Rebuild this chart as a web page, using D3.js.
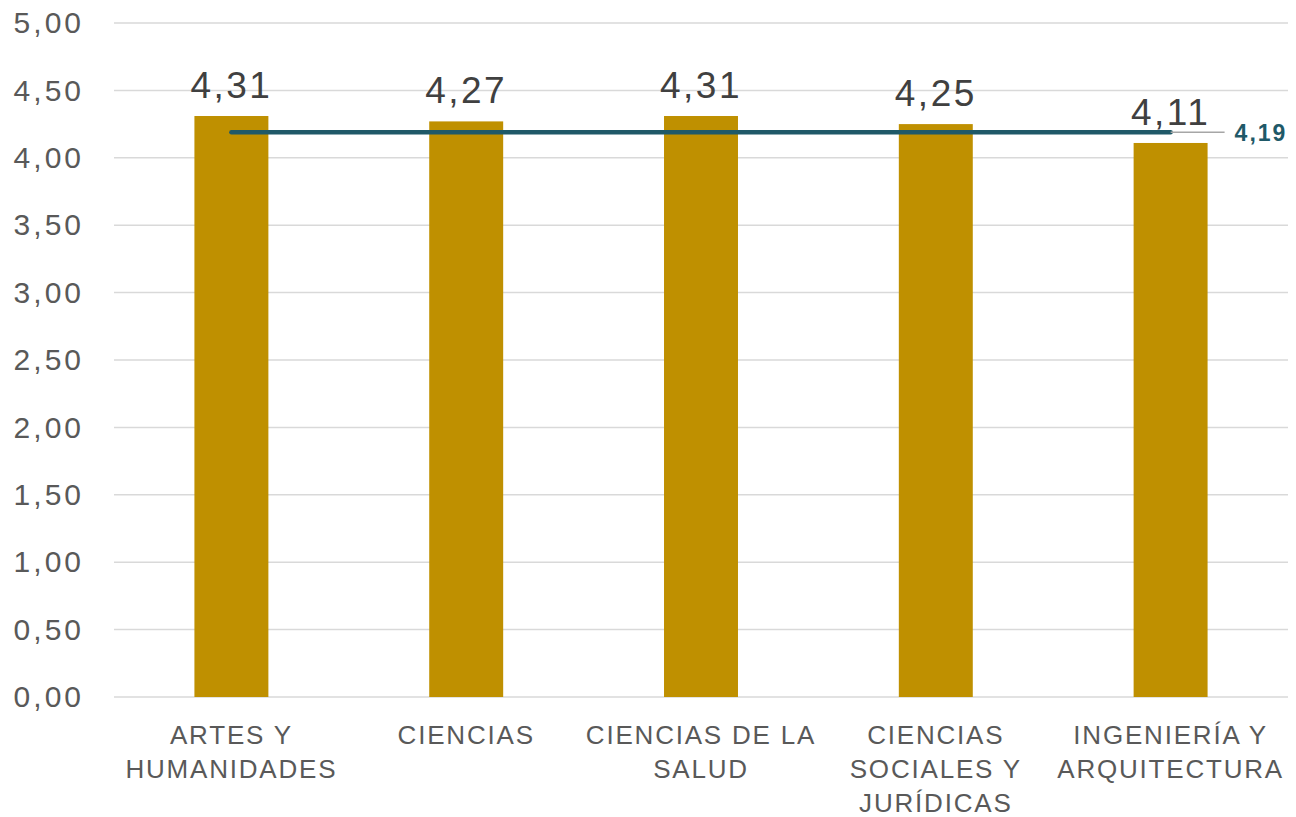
<!DOCTYPE html>
<html>
<head>
<meta charset="utf-8">
<script src="https://cdn.jsdelivr.net/npm/d3@7"></script>
<style>
  body { margin: 0; background: #fff; }
  text { font-family: "Liberation Sans", Arial, sans-serif; }
</style>
</head>
<body>
<div id="chart"></div>
<script>
// data
const categories = [
  ["ARTES Y", "HUMANIDADES"],
  ["CIENCIAS"],
  ["CIENCIAS DE LA", "SALUD"],
  ["CIENCIAS", "SOCIALES Y", "JURÍDICAS"],
  ["INGENIERÍA Y", "ARQUITECTURA"]
];
const values = [4.31, 4.27, 4.31, 4.25, 4.11];
const average = 4.19;
const yTicks = [0, 0.5, 1, 1.5, 2, 2.5, 3, 3.5, 4, 4.5, 5];

const svgWidth = 1296;
const svgHeight = 817;

const margin = { top: 23, right: 8, bottom: 120, left: 114 };
const width = svgWidth - margin.left - margin.right;
const height = svgHeight - margin.top - margin.bottom;

const fmt = v => v.toFixed(2).replace(".", ",");

const svg = d3.select("#chart")
  .append("svg")
  .attr("width", svgWidth)
  .attr("height", svgHeight);

const chartGroup = svg.append("g")
  .attr("transform", `translate(${margin.left}, ${margin.top})`);

const xScale = d3.scaleBand()
  .domain(d3.range(categories.length))
  .range([0, width])
  .paddingInner(0.685)
  .paddingOuter(0.3425);

const yScale = d3.scaleLinear()
  .domain([0, 5])
  .range([height, 0]);

// gridlines
chartGroup.selectAll("line.grid")
  .data(yTicks)
  .enter()
  .append("line")
  .classed("grid", true)
  .attr("x1", 0)
  .attr("x2", width)
  .attr("y1", d => yScale(d))
  .attr("y2", d => yScale(d))
  .attr("stroke", "#d9d9d9")
  .attr("stroke-width", 1.5);

// y axis labels
const leftAxis = d3.axisLeft(yScale)
  .tickValues(yTicks)
  .tickFormat(fmt)
  .tickSize(0)
  .tickPadding(30);

chartGroup.append("g")
  .call(leftAxis)
  .call(g => g.select(".domain").remove())
  .selectAll("text")
  .attr("font-family", "Liberation Sans, Arial, sans-serif")
  .attr("font-size", "30px")
  .attr("letter-spacing", "3px")
  .attr("fill", "#595959");

// bars
chartGroup.selectAll("rect.bar")
  .data(values)
  .enter()
  .append("rect")
  .classed("bar", true)
  .attr("x", (d, i) => xScale(i))
  .attr("y", d => yScale(d))
  .attr("width", xScale.bandwidth())
  .attr("height", d => height - yScale(d))
  .attr("fill", "#bf9000");

// value labels
chartGroup.selectAll("text.val")
  .data(values)
  .enter()
  .append("text")
  .classed("val", true)
  .attr("x", (d, i) => xScale(i) + xScale.bandwidth() / 2)
  .attr("y", d => yScale(d) - 18)
  .attr("text-anchor", "middle")
  .attr("font-size", "37px")
  .attr("letter-spacing", "2.5px")
  .attr("fill", "#404040")
  .text(fmt);

// average line
const first = xScale(0) + xScale.bandwidth() / 2;
const last = xScale(values.length - 1) + xScale.bandwidth() / 2;

chartGroup.append("line")
  .attr("x1", first)
  .attr("x2", last)
  .attr("y1", yScale(average))
  .attr("y2", yScale(average))
  .attr("stroke", "#1f5968")
  .attr("stroke-width", 4.5)
  .attr("stroke-linecap", "round");

// leader line and label
chartGroup.append("line")
  .attr("x1", last)
  .attr("x2", last + 54)
  .attr("y1", yScale(average))
  .attr("y2", yScale(average))
  .attr("stroke", "#a6a6a6")
  .attr("stroke-width", 1.5);

chartGroup.append("text")
  .attr("x", last + 64)
  .attr("y", yScale(average) + 9)
  .attr("font-family", "DejaVu Sans, sans-serif")
  .attr("font-weight", "bold")
  .attr("font-size", "23px")
  .attr("letter-spacing", "2px")
  .attr("fill", "#1f5968")
  .text(fmt(average));

// category labels
const catGroup = chartGroup.selectAll("text.cat")
  .data(categories)
  .enter()
  .append("text")
  .classed("cat", true)
  .attr("text-anchor", "middle")
  .attr("font-size", "26px")
  .attr("letter-spacing", "1.8px")
  .attr("fill", "#595959")
  .attr("transform", (d, i) => `translate(${xScale(i) + xScale.bandwidth() / 2}, ${height + 47})`);

catGroup.selectAll("tspan")
  .data(d => d)
  .enter()
  .append("tspan")
  .attr("x", 0)
  .attr("y", (d, i) => i * 34)
  .text(d => d);
</script>
</body>
</html>
